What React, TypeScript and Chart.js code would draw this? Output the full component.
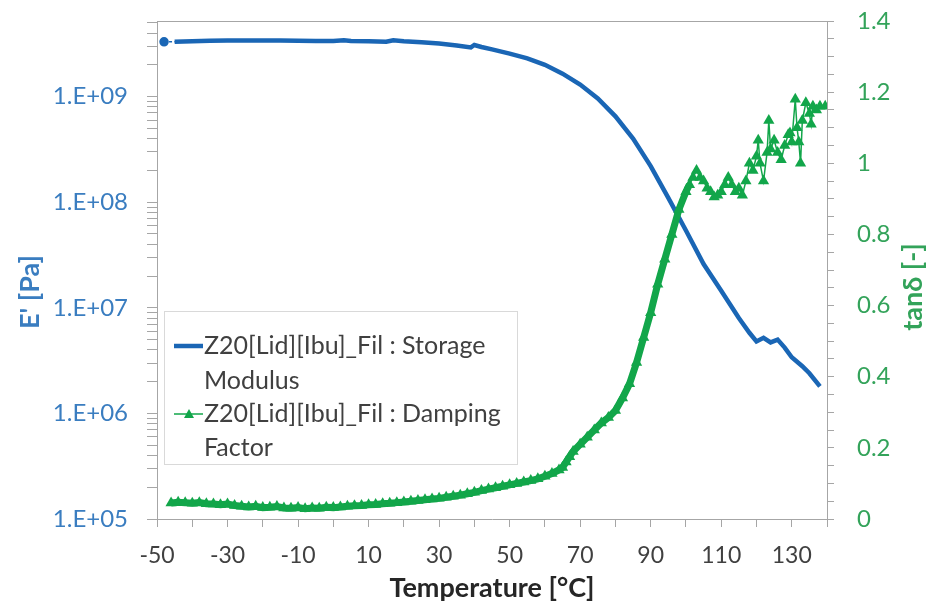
import React, { useEffect, useRef } from "react";
import { Chart, registerables } from "chart.js";

Chart.register(...registerables);

// ---------- data ----------
const storageTemp = [
  -48, -45, -40, -35, -30, -25, -20, -15, -10, -5, 0, 3, 5, 10, 15, 17, 20, 25, 30, 35, 39,
  40, 42, 45, 50, 55, 60, 65, 70, 75, 80, 85, 90, 95, 100, 105, 110, 115, 118, 120, 122, 124,
  126, 128, 130, 133, 135, 138,
];
const storageModulus = [
  3.3e9, 3.3e9, 3.35e9, 3.38e9, 3.4e9, 3.4e9, 3.4e9, 3.39e9, 3.38e9, 3.37e9, 3.36e9, 3.42e9,
  3.36e9, 3.35e9, 3.31e9, 3.42e9, 3.35e9, 3.28e9, 3.18e9, 3.05e9, 2.92e9, 3.08e9, 2.95e9,
  2.8e9, 2.55e9, 2.3e9, 2.0e9, 1.65e9, 1.3e9, 9.6e8, 6.5e8, 4.0e8, 2.2e8, 1.1e8, 5.4e7, 2.6e7,
  1.45e7, 8.0e6, 5.8e6, 4.8e6, 5.2e6, 4.7e6, 5.0e6, 4.2e6, 3.4e6, 2.8e6, 2.4e6, 1.8e6,
];

const dampingTemp = [
  -46, -44, -42, -40, -38, -36, -34, -32, -30, -28, -26, -24, -22, -20, -18, -16, -14, -12,
  -10, -8, -6, -4, -2, 0, 2, 4, 6, 8, 10, 12, 14, 16, 18, 20, 22, 24, 26, 28, 30, 32, 34, 36,
  38, 40, 42, 44, 46, 48, 50, 52, 54, 56, 58, 60, 62, 64, 65, 66, 67, 68, 70, 72, 74, 76, 78,
  80, 82, 84, 86, 88, 90, 92, 94, 96, 98, 100, 101, 102, 103, 104, 105, 106, 107, 108, 109,
  110, 111, 112, 113, 114, 115, 116, 117, 118, 119, 120, 120.5, 121, 122, 123, 123.5, 124,
  125, 126, 127, 128, 129, 129.5, 130, 131, 131.5, 132, 132.5, 133, 134, 135, 135.5, 136, 137,
  138, 139.5,
];
const dampingFactor = [
  0.045, 0.047, 0.046, 0.044, 0.046, 0.043, 0.042, 0.04, 0.042, 0.038, 0.036, 0.034, 0.036,
  0.032, 0.033, 0.035, 0.031, 0.03, 0.032, 0.029, 0.031, 0.03, 0.033, 0.032, 0.034, 0.036,
  0.037, 0.038, 0.04, 0.041, 0.043, 0.044, 0.046, 0.048, 0.05, 0.052, 0.054, 0.056, 0.058,
  0.061, 0.064, 0.067, 0.071, 0.075, 0.08, 0.084, 0.088, 0.092, 0.096, 0.1, 0.104, 0.108,
  0.113, 0.12, 0.128, 0.138, 0.145, 0.16, 0.175, 0.19, 0.21, 0.23, 0.25, 0.27, 0.285, 0.305,
  0.34, 0.38, 0.44, 0.51, 0.58, 0.66, 0.73, 0.8, 0.87, 0.92, 0.94, 0.96, 0.98, 0.96, 0.95,
  0.93, 0.92, 0.905, 0.91, 0.92, 0.94, 0.96, 0.94, 0.92, 0.93, 0.91, 0.95, 1.0, 0.98, 1.02,
  1.065, 1.0, 0.95, 1.03, 1.12, 1.04, 1.065, 1.03, 1.01, 1.05, 1.08, 1.085, 1.06, 1.18, 1.1,
  1.06, 1.0, 1.12, 1.17, 1.14, 1.11, 1.16, 1.15, 1.16, 1.16,
];

const xMin = -50;
const xMax = 140;
const xStep = 10;
const eMin = 1e5;
const eMax = 5.2e9;
const tanMin = 0;
const tanMax = 1.4;
const tanStep = 0.05;

const storageLegend = ["Z20[Lid][Ibu]_Fil : Storage", "Modulus"];
const dampingLegend = ["Z20[Lid][Ibu]_Fil : Damping", "Factor"];
const xTitle = "Temperature [°C]";
const leftTitle = "E' [Pa]";
const rightTitle = "tanδ [-]";

// ---------- styles ----------
const FONT = "Lato, 'Liberation Sans', sans-serif";
const BLUE = "#1A66B5";
const BLUE_TEXT = "#3A7DC0";
const GREEN = "#12A64A";
const GREEN_TEXT = "#33A35A";
const AXIS = "#A6A6A6";
const TEXT = "#404040";

const logTicks: number[] = [];
for (let e = 5; e <= 9; e++) {
  for (let m = 1; m <= 9; m++) {
    const v = m * Math.pow(10, e);
    if (v <= eMax) logTicks.push(v);
  }
}

const fmtE = (v: number) => {
  const exp = Math.round(Math.log10(v));
  return `1.E+${String(exp).padStart(2, "0")}`;
};

const noVPad = (s: any) => {
  s.paddingTop = 0;
  s.paddingBottom = 0;
};

const decorPlugin = {
  id: "decor",
  afterDraw(chart: any) {
    const { ctx, chartArea: a } = chart;
    ctx.save();
    // top border of plot area
    ctx.strokeStyle = AXIS;
    ctx.lineWidth = 1;
    ctx.beginPath();
    ctx.moveTo(a.left, a.top + 0.5);
    ctx.lineTo(a.right, a.top + 0.5);
    ctx.stroke();

    // axis titles
    ctx.font = `bold 27px ${FONT}`;
    ctx.textAlign = "center";
    ctx.textBaseline = "middle";
    ctx.fillStyle = "#262626";
    ctx.fillText(xTitle, 492, 588);

    ctx.save();
    ctx.translate(30, 292);
    ctx.rotate(-Math.PI / 2);
    ctx.fillStyle = BLUE_TEXT;
    ctx.fillText(leftTitle, 0, 0);
    ctx.restore();

    ctx.save();
    ctx.translate(913, 287);
    ctx.rotate(-Math.PI / 2);
    ctx.fillStyle = GREEN_TEXT;
    ctx.fillText(rightTitle, 0, 0);
    ctx.restore();

    // legend
    const bx = 164, by = 311, bw = 353, bh = 153;
    ctx.fillStyle = "#FFFFFF";
    ctx.fillRect(bx, by, bw, bh);
    ctx.strokeStyle = "#D9D9D9";
    ctx.lineWidth = 1;
    ctx.strokeRect(bx + 0.5, by + 0.5, bw, bh);

    ctx.font = `25px ${FONT}`;
    ctx.textAlign = "left";
    ctx.textBaseline = "middle";
    ctx.fillStyle = TEXT;
    const tx = 204;
    const rows = [346, 381, 414, 448];
    ctx.fillText(storageLegend[0], tx, rows[0]);
    ctx.fillText(storageLegend[1], tx, rows[1]);
    ctx.fillText(dampingLegend[0], tx, rows[2]);
    ctx.fillText(dampingLegend[1], tx, rows[3]);

    ctx.strokeStyle = BLUE;
    ctx.lineWidth = 4.5;
    ctx.beginPath();
    ctx.moveTo(174, rows[0]);
    ctx.lineTo(203, rows[0]);
    ctx.stroke();

    ctx.strokeStyle = GREEN;
    ctx.lineWidth = 1.5;
    ctx.beginPath();
    ctx.moveTo(174, rows[2]);
    ctx.lineTo(203, rows[2]);
    ctx.stroke();
    ctx.fillStyle = GREEN;
    ctx.beginPath();
    ctx.moveTo(189, rows[2] - 5);
    ctx.lineTo(194, rows[2] + 4);
    ctx.lineTo(184, rows[2] + 4);
    ctx.closePath();
    ctx.fill();

    ctx.restore();
  },
};

export default function App() {
  const ref = useRef<HTMLCanvasElement | null>(null);

  useEffect(() => {
    if (!ref.current) return;
    const chart = new Chart(ref.current, {
      type: "scatter",
      data: {
        datasets: [
          {
            label: storageLegend.join(" "),
            data: storageTemp.map((t, i) => ({ x: t, y: storageModulus[i] })),
            yAxisID: "yE",
            showLine: true,
            borderColor: BLUE,
            backgroundColor: BLUE,
            borderWidth: 4.5,
            pointRadius: (c: any) => (c.dataIndex === 0 ? 2.5 : 0),
            pointHoverRadius: 0,
            segment: {
              borderWidth: (c: any) => (c.p0DataIndex === 0 ? 1.5 : undefined),
              borderDash: (c: any) => (c.p0DataIndex === 0 ? [3, 2] : undefined),
            },
            order: 2,
          },
          {
            label: dampingLegend.join(" "),
            data: dampingTemp.map((t, i) => ({ x: t, y: dampingFactor[i] })),
            yAxisID: "yTan",
            showLine: true,
            borderColor: GREEN,
            backgroundColor: GREEN,
            borderWidth: 1.5,
            pointStyle: "triangle",
            pointRadius: 6.5,
            pointBorderWidth: 0,
            segment: {
              borderWidth: (c: any) => (c.p1.parsed.x <= 101 ? 7 : undefined),
            },
            order: 1,
          },
        ],
      },
      options: {
        animation: false,
        responsive: false,
        events: [],
        layout: { padding: { top: 21, left: 0, right: 0, bottom: 0 } },
        plugins: { legend: { display: false }, tooltip: { enabled: false } },
        scales: {
          x: {
            type: "linear",
            min: xMin,
            max: xMax,
            afterFit: (s: any) => {
              s.height = 91;
              s.paddingLeft = 0;
              s.paddingRight = 0;
            },
            grid: {
              drawOnChartArea: false,
              color: AXIS,
              tickLength: 8,
            },
            border: { color: AXIS, width: 1 },
            ticks: {
              stepSize: xStep,
              autoSkip: false,
              maxRotation: 0,
              padding: 15,
              color: TEXT,
              font: { family: FONT, size: 23 },
              callback: (v: any) => (Math.round(v - xMin) % 20 === 0 ? String(v) : ""),
            },
          },
          yE: {
            type: "logarithmic",
            position: "left",
            min: eMin,
            max: eMax,
            afterFit: (s: any) => {
              s.width = 157;
              noVPad(s);
            },
            afterBuildTicks: (s: any) => {
              s.ticks = logTicks.map((v) => ({ value: v }));
            },
            grid: { drawOnChartArea: false, color: AXIS, tickLength: 10 },
            border: { color: AXIS, width: 1 },
            ticks: {
              autoSkip: false,
              padding: 19,
              color: BLUE_TEXT,
              font: { family: FONT, size: 24 },
              callback: (v: any) => {
                const l = Math.log10(v);
                return Math.abs(l - Math.round(l)) < 1e-9 ? fmtE(v) : "";
              },
            },
          },
          yTan: {
            type: "linear",
            position: "right",
            min: tanMin,
            max: tanMax,
            afterFit: (s: any) => {
              s.width = 105;
              noVPad(s);
            },
            grid: { drawOnChartArea: false, color: AXIS, tickLength: 7 },
            border: { color: AXIS, width: 1 },
            ticks: {
              stepSize: tanStep,
              autoSkip: false,
              padding: 23,
              color: GREEN_TEXT,
              font: { family: FONT, size: 24 },
              callback: (v: any) => {
                const r = Math.round(v * 100);
                return r % 20 === 0 ? String(r / 100) : "";
              },
            },
          },
        },
      },
      plugins: [decorPlugin],
    } as any);
    return () => chart.destroy();
  }, []);

  return (
    <div style={{ position: "fixed", left: 0, top: 0, width: 932, height: 610, background: "#fff" }}>
      <canvas ref={ref} width={932} height={610} style={{ display: "block" }} />
    </div>
  );
}
